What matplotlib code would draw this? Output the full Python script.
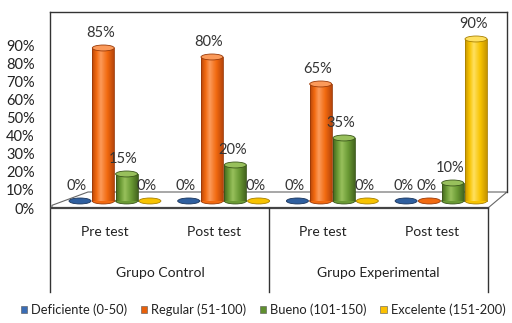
import numpy as np
import matplotlib
matplotlib.use("Agg")
import matplotlib.pyplot as plt
import matplotlib.patches as mpatches
from matplotlib.colors import LinearSegmentedColormap

plt.rcParams['font.family'] = ['Lato', 'DejaVu Sans']

series = ["Deficiente (0-50)", "Regular (51-100)", "Bueno (101-150)", "Excelente (151-200)"]
groups = ["Pre test", "Post test", "Pre test", "Post test"]
supergroups = ["Grupo Control", "Grupo Experimental"]
deficiente = [0, 0, 0, 0]
regular = [85, 80, 65, 0]
bueno = [15, 20, 35, 10]
excelente = [0, 0, 0, 90]
y_ticks = [0, 10, 20, 30, 40, 50, 60, 70, 80, 90]

values = [deficiente, regular, bueno, excelente]
# (dark, body, light, edge)
palette = [("#1d3d6b", "#2f5f9f", "#5b86c4", "#1a355c"),
           ("#b8460a", "#f26a10", "#fb9a5a", "#9a3a08"),
           ("#45661f", "#6a9a34", "#98c05c", "#3a561a"),
           ("#c79500", "#f7c300", "#ffe060", "#a88000")]
legend_cols = ["#3a6db5", "#e8600a", "#5f8f2f", "#fcc000"]

W, H = 512, 323
fig = plt.figure(figsize=(W / 100, H / 100), dpi=100)
px = 1.8                     # pixels per percent
y_top = (208 - 12) / px
y_bot = -(292 - 208) / px
ax = fig.add_axes([50 / W, (H - 292) / H, (510 - 50) / W, (292 - 12) / H])
for s in ax.spines.values():
    s.set_visible(False)
ax.set_xticks([])
ax.set_yticks(y_ticks)
ax.set_yticklabels([f"{t}%" for t in y_ticks], fontsize=10.5, color="#222222")
ax.tick_params(axis="y", length=0, pad=11)

back = (208 - 192) / px
lc = "#333333"
# frame
ax.plot([50, 507], [y_top, y_top], color=lc, lw=1, clip_on=False)
ax.plot([50, 50], [y_top, y_bot], color=lc, lw=1, clip_on=False)
ax.plot([507, 507], [y_top, back], color=lc, lw=1, clip_on=False)
# floor
floor = mpatches.Polygon([(52, 1.5), (88, back), (507, back), (488, 0), (52, 0)],
                         closed=True, facecolor="white", edgecolor="#666666", lw=0.8)
ax.add_patch(floor)
ax.plot([50, 488], [0, 0], color="#444444", lw=1.6)
for xs in [269, 488]:
    ax.plot([xs, xs], [0, y_bot], color=lc, lw=1, clip_on=False)

base = 3.9
bw = 22
eh = 3.3
grad = np.linspace(0, 1, 64).reshape(1, -1)
for k, vals in enumerate(values):
    dark, body, light, edge = palette[k]
    cmap = LinearSegmentedColormap.from_list(
        f"c{k}", [(0, dark), (0.2, body), (0.4, light), (0.7, body), (1, dark)])
    for i, v in enumerate(vals):
        xc = 80 + 108.7 * i + 23.3 * k
        ax.add_patch(mpatches.Ellipse((xc, base), bw, eh, facecolor=body,
                                      edgecolor=edge, lw=0.6, zorder=3))
        if v > 0:
            bar = ax.bar(xc, v, bottom=base, width=bw, color=body,
                         edgecolor="none", zorder=4)[0]
            im = ax.imshow(grad, cmap=cmap, aspect="auto", zorder=4,
                           extent=(xc - bw / 2, xc + bw / 2, base, base + v))
            im.set_clip_path(bar)
            ax.plot([xc - bw / 2, xc - bw / 2], [base, base + v], color=edge, lw=0.6, zorder=5)
            ax.plot([xc + bw / 2, xc + bw / 2], [base, base + v], color=edge, lw=0.6, zorder=5)
            ax.add_patch(mpatches.Ellipse((xc, base + v), bw, eh, facecolor=light,
                                          edgecolor=edge, lw=0.6, zorder=6))
        ax.text(xc - 3, base + v + 8.2, f"{v}%", ha="center", va="center",
                fontsize=10.5, color="#333333", zorder=7)

ax.set_xlim(50, 510)
ax.set_ylim(y_bot, y_top)

for i, g in enumerate(groups):
    ax.text(105 + 109 * i, -(232 - 208) / px, g, ha="center", va="center",
            fontsize=10, color="#222222")
for j, sg in enumerate(supergroups):
    ax.text(160 + 218 * j, -(273 - 208) / px, sg, ha="center", va="center",
            fontsize=10, color="#222222")

handles = [mpatches.Patch(facecolor=c, edgecolor="#555555", lw=0.4, label=s)
           for c, s in zip(legend_cols, series)]
fig.legend(handles=handles, loc="center", bbox_to_anchor=(263 / W, 13 / H), ncol=4,
           frameon=False, fontsize=9.3, handlelength=0.5, handleheight=0.5,
           handletextpad=0.3, columnspacing=1.05, labelcolor="#222222",
           borderpad=0, borderaxespad=0)

fig.savefig("out.png", dpi=100)
